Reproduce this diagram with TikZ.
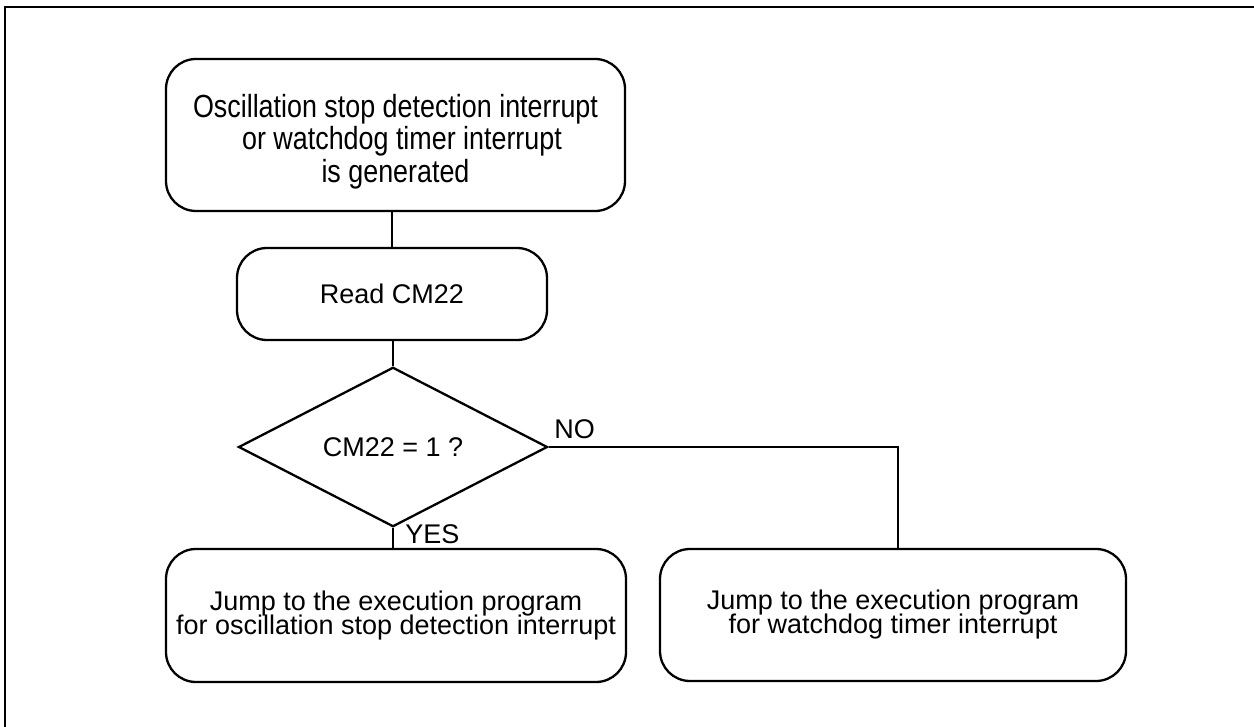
\documentclass[tikz,border=0pt]{standalone}
\usepackage{fontspec}
\setmainfont{Liberation Sans}
\newfontfamily\condensedfont[FakeStretch=0.84]{Liberation Sans}
\usetikzlibrary{shapes.geometric}
\newcommand\tightlines{\lineskiplimit=-20pt\relax}
\begin{document}
\begin{tikzpicture}[x=0.5pt,y=-0.5pt,
  txt/.style={font=\fontsize{13.5}{12}\selectfont\tightlines},
  flowbox/.style={draw, line width=1.15pt, rounded corners=15pt, align=center, inner sep=0pt},
  decision/.style={draw, diamond, line width=1.15pt, inner sep=0pt, align=center},
  link/.style={draw, line width=1pt},
  frameline/.style={draw, line width=1pt},
  branchlabel/.style={txt, anchor=base west, inner sep=0pt}]
  \useasboundingbox (0,0) rectangle (1254,727);
  \fill[white] (0,0) rectangle (1254,727);

  % open frame: top and left edges only
  \draw[frameline] (1254,7) -- (4.5,7) -- (4.5,727);

  % process steps
  \node[flowbox, minimum width=229.5pt, minimum height=76pt,
        font=\condensedfont\fontsize{16}{16.25}\selectfont] (start) at (395.5,135)
    {\rule{0pt}{17.85pt}Oscillation stop detection interrupt\\
     \hspace*{6.5pt}or watchdog timer interrupt\\
     is generated};
  \node[flowbox, txt, minimum width=155pt, minimum height=46pt] (read) at (392,294) {Read CM22};
  \node[decision, txt, minimum width=154.5pt, minimum height=76.5pt] (dec) at (393,447) {CM22 = 1 ?};
  \node[flowbox, txt, minimum width=230pt, minimum height=66.5pt] (yesbox) at (396,615.5)
    {Jump to the execution program\\for oscillation stop detection interrupt};
  \node[flowbox, txt, minimum width=233pt, minimum height=66pt] (nobox) at (893,615)
    {Jump to the execution program\\for watchdog timer interrupt};

  % branch labels
  \node[branchlabel] (yeslabel) at (405,543) {YES};
  \node[branchlabel] (nolabel) at (554,438) {NO};

  % connectors
  \coordinate (turn) at (898,447);
  \draw[link] (read.north |- start.south) -- (read.north);
  \draw[link] (dec.north |- read.south) -- (dec.north);
  \draw[link] (dec.south) -- (dec.south |- yesbox.north);
  \draw[link] (dec.east) -- (turn) -- (turn |- nobox.north);
\end{tikzpicture}
\end{document}
